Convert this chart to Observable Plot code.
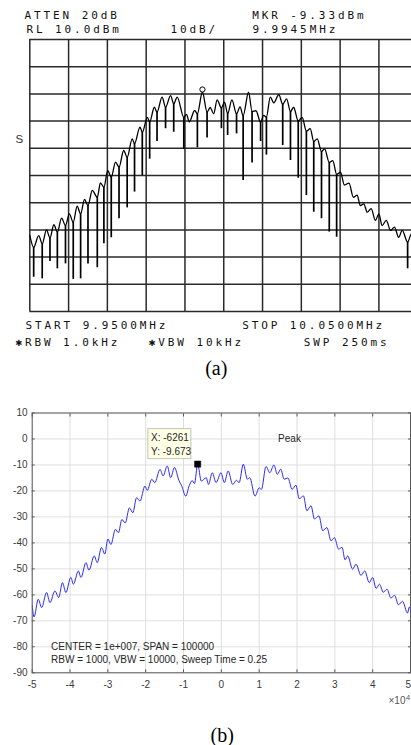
<!DOCTYPE html>
<html><head><meta charset="utf-8">
<script src="https://cdn.jsdelivr.net/npm/d3@7"></script>
<script src="https://cdn.jsdelivr.net/npm/@observablehq/plot@0.6"></script>
<style>
html,body{margin:0;padding:0;background:#fff;overflow:hidden;}
#wrap{width:411px;}
#wrap svg{display:block;}
</style></head><body><div id="wrap"></div>
<script>
// ---------- Panel (a): spectrum analyzer trace (offset from 10 MHz, kHz ; dBm) ----------
const aFreq = [-50.0,-49.0,-47.7,-46.8,-45.7,-44.8,-43.8,-42.9,-41.8,-40.8,-39.8,-38.8,-37.8,-36.9,-35.9,-35.0,-33.9,-32.6,-31.8,-30.9,-29.9,-29.0,-27.9,-27.0,-25.8,-24.9,-23.6,-23.0,-21.6,-21.0,-19.7,-19.1,-17.9,-17.2,-15.9,-15.0,-13.7,-12.9,-12.0,-10.3,-9.6,-8.9,-7.5,-6.8,-5.5,-4.3,-3.5,-2.6,-1.7,-0.6,0.2,1.0,2.1,3.3,4.2,5.0,6.4,7.3,8.3,9.5,10.3,11.0,12.0,12.9,14.2,15.2,16.2,17.2,18.0,19.2,20.2,21.3,22.3,23.2,24.1,25.2,26.0,27.2,28.1,29.1,30.1,31.1,32.3,33.4,34.4,35.2,36.1,37.0,38.0,39.1,40.0,40.8,41.9,43.0,44.0,45.1,46.0,47.4,48.4,49.5];
const aLevel = [-62.0,-66.4,-62.1,-65.1,-60.0,-62.9,-58.1,-60.8,-55.7,-58.4,-54.1,-57.2,-51.3,-54.1,-48.8,-51.0,-45.5,-48.0,-42.7,-44.3,-38.2,-40.6,-35.1,-36.9,-30.8,-33.3,-26.5,-28.3,-22.2,-24.1,-18.6,-20.4,-14.9,-16.7,-11.2,-14.9,-10.6,-13.6,-11.2,-18.6,-17.5,-20.3,-16.1,-17.3,-9.3,-16.7,-15.0,-17.3,-12.2,-15.2,-13.0,-17.3,-12.2,-17.3,-14.8,-18.0,-9.4,-16.4,-16.2,-20.4,-17.9,-18.5,-11.2,-13.3,-10.3,-13.8,-11.8,-16.5,-14.9,-20.0,-18.6,-23.7,-22.8,-27.5,-26.5,-31.2,-30.2,-35.2,-34.5,-39.6,-38.8,-43.5,-42.8,-48.0,-47.2,-51.1,-50.4,-53.5,-52.2,-56.5,-54.1,-58.4,-56.5,-60.2,-59.0,-62.7,-60.2,-64.5,-61.4,-63.5];
// deep notches (frequency of the trough they start from, bottom level)
const aNotchFreq = [-49.0,-46.8,-44.8,-42.9,-40.8,-38.8,-36.9,-35.0,-32.6,-30.9,-29.0,-27.0,-24.9,-23.0,-21.0,-19.1,-17.2,-15.0,-12.9,-10.3,-6.8,-4.3,-0.6,1.0,3.3,5.0,7.3,9.5,11.0,15.2,17.2,19.2,21.3,23.2,25.2,27.2,29.1,47.4];
const aNotchLevel = [-77.4,-78.0,-71.6,-74.3,-72.5,-78.2,-78.0,-72.5,-73.9,-65.1,-62.9,-55.9,-51.9,-46.1,-40.0,-34.0,-27.5,-22.8,-24.1,-30.4,-29.8,-26.2,-22.8,-25.3,-24.7,-41.8,-35.4,-27.5,-32.5,-29.0,-34.5,-41.0,-47.4,-53.5,-55.9,-60.8,-62.7,-74.3];
const aGridFreq = [-50,-40,-30,-20,-10,0,10,20,30,40];
const aGridLevel = [-90,-80,-70,-60,-50,-40,-30,-20,-10,0,10];
const aMarkerFreq = -5.5, aMarkerLevel = -9.33;
const aHeaderTexts = ["ATTEN 20dB","RL 10.0dBm","10dB/","MKR -9.33dBm","9.9945MHz"];
const aFooterTexts = ["START 9.9500MHz","STOP 10.0500MHz","\u2731RBW 1.0kHz","\u2731VBW 10kHz","SWP 250ms"];
const aSideText = "S", aCaption = "(a)";

// ---------- Panel (b): simulated spectrum (offset Hz ; dB) ----------
const bFreq = [-50000,-49500,-48400,-47500,-46200,-45300,-44000,-43000,-42000,-41100,-39800,-39100,-37800,-37100,-35800,-35000,-33600,-32800,-31700,-30800,-30000,-29200,-28000,-27200,-26300,-25400,-24300,-23400,-22400,-21500,-20200,-19600,-18400,-17600,-16200,-15400,-14300,-13400,-12400,-11200,-10500,-9400,-8500,-7700,-7100,-6261,-5300,-4000,-3400,-2400,-1400,-100,800,1800,3000,4000,4700,5800,6900,7500,8900,10000,10600,11800,12800,13900,14800,15700,16600,17600,18700,19700,20600,21700,22600,23700,24600,25800,26800,27900,29000,29900,31000,31900,32700,33400,34700,35600,36900,37900,39100,40000,40900,41800,42800,43800,44800,45800,46800,47900,49200,49700,50000];
const bLevel = [-64.2,-68.5,-61.7,-64.9,-59.1,-63.0,-58.5,-61.0,-55.3,-59.1,-53.3,-55.9,-50.8,-53.3,-47.6,-50.5,-45.0,-47.6,-41.8,-44.3,-38.5,-40.6,-34.8,-36.1,-31.0,-32.3,-26.5,-28.4,-22.6,-23.9,-18.1,-19.8,-15.5,-16.8,-11.7,-14.2,-10.4,-14.9,-11.0,-16.0,-18.0,-22.0,-18.0,-16.0,-17.2,-9.673,-16.2,-14.9,-17.5,-13.0,-16.8,-13.0,-16.8,-12.3,-17.5,-15.9,-16.8,-9.7,-15.5,-14.9,-22.0,-18.8,-19.4,-10.6,-13.0,-10.0,-13.6,-11.6,-15.5,-15.0,-19.4,-17.8,-23.0,-21.9,-27.6,-25.7,-30.8,-29.6,-35.3,-34.1,-39.2,-38.0,-42.4,-41.7,-46.5,-45.0,-50.1,-48.2,-52.5,-50.8,-55.3,-53.3,-57.5,-55.9,-59.0,-57.8,-61.2,-60.2,-63.8,-62.5,-67.0,-64.7,-65.5];
const bTicksX = [-50000,-40000,-30000,-20000,-10000,0,10000,20000,30000,40000,50000];
const bTicksY = [-90,-80,-70,-60,-50,-40,-30,-20,-10,0,10];
const bTipFreq = -6261, bTipLevel = -9.673;
const bNotes = [
  {f: 15000, v: 0, t: "Peak"},
  {f: -45000, v: -80, t: "CENTER = 1e+007, SPAN = 100000"},
  {f: -45000, v: -85, t: "RBW = 1000, VBW = 10000, Sweep Time = 0.25"}
];
const bExpBase = "\u00d710", bExpPow = "4", bCaption = "(b)";

// ---------- build tables ----------
const traceA = aFreq.map((f, i) => ({f, v: aLevel[i]}));
const notchA = aNotchFreq.map((f, i) => ({f, top: aLevel[aFreq.indexOf(f)], bottom: aNotchLevel[i]}));
const traceB = bFreq.map((f, i) => ({f, v: bLevel[i]}));
const tip = {f: bTipFreq, v: bTipLevel};
const bTicksXInner = bTicksX.slice(0, -1), bTicksXLast = bTicksX.slice(-1);

const MONO = "DejaVu Sans Mono, monospace";
const monoText = (s, anchor, dx, dy) => Plot.text([s], {frameAnchor: anchor, text: d => d, dx, dy,
  textAnchor: "start", lineAnchor: "middle", fontFamily: MONO, fontSize: 11, fill: "#111"});

const svgA = Plot.plot({
  width: 411, height: 385,
  marginLeft: 29.3, marginRight: 0, marginTop: 39, marginBottom: 74,
  x: {domain: [-50, 48.4], axis: null},
  y: {domain: [-90, 10], axis: null},
  style: {background: "white"},
  marks: [
    Plot.gridX(aGridFreq, {stroke: "#2a2a2a", strokeOpacity: 1, strokeWidth: 1.5}),
    Plot.gridY(aGridLevel, {stroke: "#2a2a2a", strokeOpacity: 1, strokeWidth: 1.5}),
    Plot.ruleX(notchA, {x: "f", y1: "top", y2: "bottom", stroke: "#000", strokeWidth: 1.7}),
    Plot.line(traceA, {x: "f", y: "v", curve: "monotone-x", stroke: "#000", strokeWidth: 1.3, clip: true}),
    Plot.dot([{f: aMarkerFreq, v: aMarkerLevel}], {x: "f", y: "v", r: 2.6, dy: -2.6, fill: "white", stroke: "#000", strokeWidth: 1}),
    monoText(aHeaderTexts[0], "top-left", -5.3, -24),
    monoText(aHeaderTexts[1], "top-left", -3.3, -9.7),
    monoText(aHeaderTexts[2], "top-left", 140.7, -9.7),
    monoText(aHeaderTexts[3], "top-left", 222.4, -24),
    monoText(aHeaderTexts[4], "top-left", 222.7, -9.7),
    monoText(aFooterTexts[0], "bottom-left", -4.3, 14),
    monoText(aFooterTexts[1], "bottom-left", 212.4, 14),
    monoText(aFooterTexts[2], "bottom-left", -14.3, 30.7),
    monoText(aFooterTexts[3], "bottom-left", 119, 30.7),
    monoText(aFooterTexts[4], "bottom-left", 274, 30.7),
    Plot.text([aSideText], {frameAnchor: "left", text: d => d, dx: -10.5, dy: -36, textAnchor: "middle", lineAnchor: "middle", fontFamily: "Liberation Sans, Arial, sans-serif", fontSize: 11.5, fill: "#333"}),
    Plot.text([aCaption], {frameAnchor: "bottom-left", text: d => d, dx: 186.5, dy: 57.3, textAnchor: "middle", lineAnchor: "middle", fontFamily: "Liberation Serif, Times New Roman, serif", fontSize: 20, fill: "#000"})
  ]
});
svgA.querySelectorAll('g[font-family*="Mono"] text').forEach(t => t.setAttribute("letter-spacing", "2.9"));

const AX = "#5a5a5a", LBL = "#3a3a3a";
const svgB = Plot.plot({
  width: 411, height: 360,
  marginLeft: 31.7, marginRight: 1, marginTop: 27.5, marginBottom: 72.7,
  x: {domain: [-50000, 50000], axis: null},
  y: {domain: [-90, 10], axis: null},
  style: {background: "white", fontFamily: "Liberation Sans, Arial, sans-serif", fontSize: "10px"},
  marks: [
    Plot.gridX(bTicksX, {stroke: "#dedede", strokeOpacity: 1, strokeWidth: 1}),
    Plot.gridY(bTicksY, {stroke: "#dedede", strokeOpacity: 1, strokeWidth: 1}),
    Plot.line(traceB, {x: "f", y: "v", curve: "monotone-x", stroke: "#2a2aff", strokeWidth: 1, clip: true}),
    Plot.rect([tip], {x1: "f", x2: "f", y1: "v", y2: "v", insetLeft: -49.3, insetRight: 6.3, insetTop: -35, insetBottom: 5, fill: "#ffffe6", stroke: "#c4c4b8", strokeWidth: 1}),
    Plot.text([tip], {x: "f", y: "v", text: d => `X: ${d.f}`, dx: -46.6, dy: -26.3, textAnchor: "start", lineAnchor: "middle", fontSize: 10, fill: "#262626"}),
    Plot.text([tip], {x: "f", y: "v", text: d => `Y: ${d.v}`, dx: -46.6, dy: -12.3, textAnchor: "start", lineAnchor: "middle", fontSize: 10, fill: "#262626"}),
    Plot.dot([tip], {x: "f", y: "v", symbol: "square", r: 3.5, fill: "#000", stroke: "#000", strokeWidth: 0.5}),
    Plot.text(bNotes, {x: "f", y: "v", text: "t", textAnchor: "start", lineAnchor: "middle", fontSize: 10, fill: "#262626"}),
    Plot.frame({stroke: AX, strokeWidth: 1}),
    Plot.axisX(bTicksXInner, {anchor: "bottom", tickSize: -3, tickPadding: 10.7, tickFormat: d => String(d / 1e4), label: null, stroke: AX, fill: LBL, fontSize: 10}),
    Plot.axisX(bTicksXLast, {anchor: "bottom", tickSize: -3, tickPadding: 10.7, tickFormat: d => String(d / 1e4), label: null, stroke: AX, fill: LBL, fontSize: 10, textAnchor: "end", dx: 0.5}),
    Plot.axisX(bTicksX, {anchor: "top", tickSize: -3, fill: "none", label: null, stroke: AX}),
    Plot.axisY(bTicksY, {anchor: "left", tickSize: -3, tickPadding: 7.7, tickFormat: d => String(d), label: null, stroke: AX, fill: LBL, fontSize: 10}),
    Plot.axisY(bTicksY, {anchor: "right", tickSize: -3, fill: "none", label: null, stroke: AX}),
    Plot.text([bExpBase], {frameAnchor: "bottom-right", text: d => d, dx: -22, dy: 28, textAnchor: "start", lineAnchor: "middle", fontSize: 10, fill: "#555"}),
    Plot.text([bExpPow], {frameAnchor: "bottom-right", text: d => d, dx: -4.5, dy: 24.5, textAnchor: "start", lineAnchor: "middle", fontSize: 7.5, fill: "#555"}),
    Plot.text([bCaption], {frameAnchor: "bottom-left", text: d => d, dx: 190, dy: 62.7, textAnchor: "middle", lineAnchor: "middle", fontFamily: "Liberation Serif, Times New Roman, serif", fontSize: 20, fill: "#000"})
  ]
});

const wrap = document.getElementById("wrap");
wrap.appendChild(svgA);
wrap.appendChild(svgB);
</script>
</body></html>
